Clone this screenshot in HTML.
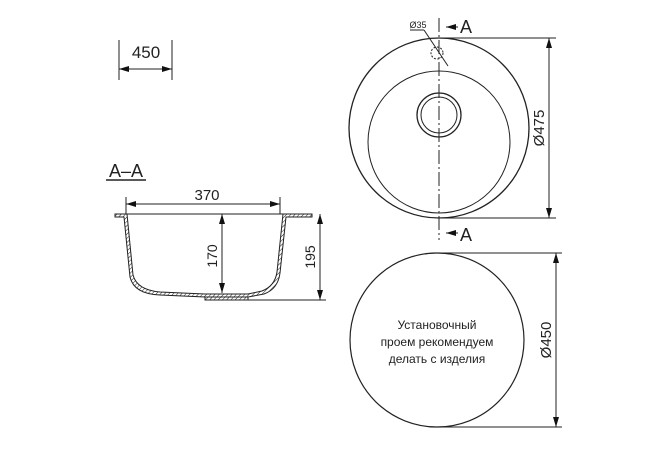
<!DOCTYPE html>
<html><head><style>html,body{margin:0;padding:0;background:#fff}</style></head>
<body>
<svg width="666" height="444" viewBox="0 0 666 444" xmlns="http://www.w3.org/2000/svg" font-family="'Liberation Sans','DejaVu Sans',sans-serif">
<defs>
<marker id="ar" viewBox="0 0 10 6" refX="10" refY="3" markerWidth="10" markerHeight="6" markerUnits="userSpaceOnUse" orient="auto-start-reverse"><path d="M0,0L10,3L0,6z" fill="#111"/></marker>
<pattern id="h" width="3" height="3" patternUnits="userSpaceOnUse" patternTransform="rotate(45)"><line x1="0" y1="0" x2="0" y2="3" stroke="#222" stroke-width="1"/></pattern>
</defs>
<rect width="666" height="444" fill="#fff"/>
<g stroke="#222" fill="none" stroke-width="1">
<line x1="119" y1="40" x2="119" y2="80"/><line x1="172" y1="40" x2="172" y2="80"/>
<line x1="119" y1="69" x2="172" y2="69" marker-start="url(#ar)" marker-end="url(#ar)"/>
<line x1="106" y1="180" x2="146" y2="180" stroke-width="1.5"/>
<line x1="115" y1="214" x2="312" y2="214"/>
<path d="M115,214 L127,214 L133,275 Q137,290 160,292 L205,294 L248,294 L262,291 Q275,286 277,272 L283,214 L312,214 L312,217 L286,217 L280,273 Q278,289 264,294 L248,297 L248,300 L205,300 L205,297 L160,295 Q134,294 130,277 L124,217 L115,217 Z" fill="url(#h)"/>
<line x1="205" y1="297" x2="248" y2="297"/>
<line x1="126" y1="197" x2="126" y2="214"/><line x1="280" y1="197" x2="280" y2="214"/>
<line x1="126" y1="204" x2="280" y2="204" marker-start="url(#ar)" marker-end="url(#ar)"/>
<line x1="222" y1="214" x2="222" y2="293" marker-start="url(#ar)" marker-end="url(#ar)"/>
<line x1="248" y1="300" x2="326" y2="300"/>
<line x1="320" y1="214" x2="320" y2="300" marker-start="url(#ar)" marker-end="url(#ar)"/>
<circle cx="439" cy="128" r="90" stroke-width="1.3"/>
<circle cx="439" cy="142" r="71"/>
<circle cx="439" cy="115" r="22" stroke-width="1.3"/>
<circle cx="439" cy="115" r="18"/>
<circle cx="437" cy="53" r="6" stroke-dasharray="2,1.5"/>
<line x1="439" y1="18" x2="439" y2="240" stroke-dasharray="14,3,2,3"/>
<line x1="424" y1="30" x2="448" y2="66"/>
<line x1="410" y1="30" x2="424" y2="30"/>
<line x1="458" y1="27" x2="446" y2="27" marker-end="url(#ar)"/>
<line x1="458" y1="233" x2="446" y2="233" marker-end="url(#ar)"/>
<line x1="440" y1="38" x2="556" y2="38"/><line x1="440" y1="218" x2="556" y2="218"/>
<line x1="549" y1="38" x2="549" y2="218" marker-start="url(#ar)" marker-end="url(#ar)"/>
<circle cx="437" cy="340" r="87" stroke-width="1.2"/>
<line x1="437" y1="253" x2="562" y2="253"/><line x1="437" y1="427" x2="562" y2="427"/>
<line x1="556" y1="253" x2="556" y2="427" marker-start="url(#ar)" marker-end="url(#ar)"/>
</g>
<g fill="#222">
<text x="146" y="58" font-size="17" text-anchor="middle">450</text>
<text x="126" y="177" font-size="18" text-anchor="middle">A–A</text>
<text x="207" y="200" font-size="15" text-anchor="middle">370</text>
<text transform="translate(217,256) rotate(-90)" font-size="14" text-anchor="middle">170</text>
<text transform="translate(315,257) rotate(-90)" font-size="14" text-anchor="middle">195</text>
<text x="418" y="28" font-size="9" text-anchor="middle">Ø35</text>
<text x="466" y="33" font-size="18" text-anchor="middle">A</text>
<text x="466" y="241" font-size="18" text-anchor="middle">A</text>
<text transform="translate(544,128) rotate(-90)" font-size="15" text-anchor="middle">Ø475</text>
<text transform="translate(551,340) rotate(-90)" font-size="15" text-anchor="middle">Ø450</text>
<text x="437" y="329" font-size="12" text-anchor="middle">Установочный</text>
<text x="437" y="346" font-size="12" text-anchor="middle">проем рекомендуем</text>
<text x="437" y="363" font-size="12" text-anchor="middle">делать с изделия</text>
</g>
</svg>
</body></html>
